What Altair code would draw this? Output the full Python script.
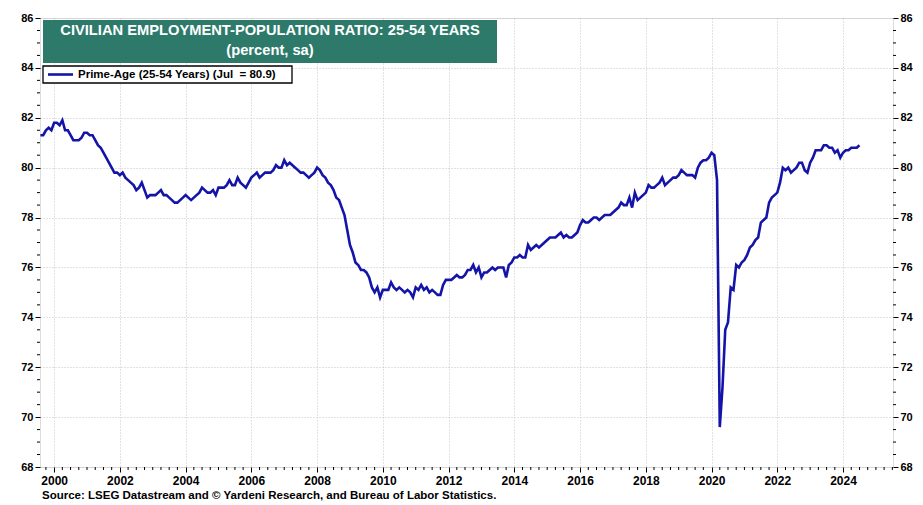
import altair as alt
import pandas as pd

# Monthly prime-age employment-population ratio (percent, sa)
start_1999 = 8  # first month shown in 1999 (Aug)
v1999 = [81.3, 81.3, 81.5, 81.6, 81.5]
v2000 = [81.8, 81.8, 81.7, 81.9, 81.5, 81.5, 81.3, 81.1, 81.1, 81.1, 81.2, 81.4]
v2001 = [81.4, 81.3, 81.3, 81.1, 80.9, 80.8, 80.6, 80.4, 80.2, 80.0, 79.8, 79.8]
v2002 = [79.7, 79.8, 79.6, 79.5, 79.4, 79.3, 79.1, 79.2, 79.4, 79.1, 78.8, 78.9]
v2003 = [78.9, 78.9, 79.0, 79.1, 78.9, 78.9, 78.8, 78.7, 78.6, 78.6, 78.7, 78.8]
v2004 = [78.9, 78.8, 78.7, 78.8, 78.9, 79.0, 79.2, 79.1, 79.0, 79.0, 79.1, 78.9]
v2005 = [79.2, 79.2, 79.2, 79.3, 79.5, 79.3, 79.3, 79.6, 79.4, 79.3, 79.2, 79.4]
v2006 = [79.6, 79.7, 79.8, 79.6, 79.7, 79.8, 79.8, 79.8, 79.9, 80.1, 80.0, 80.0]
v2007 = [80.3, 80.1, 80.2, 80.1, 80.0, 79.9, 79.8, 79.8, 79.7, 79.6, 79.7, 79.8]
v2008 = [80.0, 79.9, 79.7, 79.6, 79.4, 79.3, 79.1, 78.8, 78.7, 78.4, 78.1, 77.5]
v2009 = [76.9, 76.6, 76.2, 76.1, 75.9, 75.9, 75.8, 75.6, 75.2, 75.0, 75.2, 74.8]
v2010 = [75.1, 75.1, 75.1, 75.4, 75.2, 75.1, 75.2, 75.1, 75.0, 75.1, 75.0, 74.8]
v2011 = [75.2, 75.1, 75.3, 75.1, 75.2, 75.0, 75.1, 75.0, 74.9, 74.9, 75.3, 75.5]
v2012 = [75.5, 75.5, 75.6, 75.7, 75.6, 75.6, 75.7, 75.9, 75.9, 76.1, 75.8, 76.0]
v2013 = [75.6, 75.8, 75.8, 75.9, 76.0, 75.9, 76.0, 76.0, 76.0, 75.6, 76.1, 76.2]
v2014 = [76.4, 76.4, 76.5, 76.4, 76.4, 76.9, 76.7, 76.8, 76.9, 76.8, 76.9, 77.0]
v2015 = [77.1, 77.2, 77.2, 77.2, 77.3, 77.4, 77.2, 77.3, 77.2, 77.2, 77.3, 77.4]
v2016 = [77.7, 77.9, 77.8, 77.8, 77.9, 78.0, 78.0, 77.9, 78.0, 78.1, 78.1, 78.1]
v2017 = [78.2, 78.3, 78.4, 78.6, 78.5, 78.5, 78.8, 78.4, 79.0, 78.7, 78.8, 78.9]
v2018 = [79.0, 79.3, 79.2, 79.2, 79.3, 79.4, 79.6, 79.3, 79.4, 79.5, 79.6, 79.6]
v2019 = [79.7, 79.9, 79.8, 79.7, 79.7, 79.7, 79.6, 80.0, 80.2, 80.3, 80.3, 80.4]
v2020 = [80.6, 80.5, 79.5, 69.6, 71.2, 73.5, 73.8, 75.2, 75.1, 76.1, 76.0, 76.2]
v2021 = [76.3, 76.5, 76.8, 76.9, 77.1, 77.2, 77.8, 77.9, 78.0, 78.6, 78.8, 78.9]
v2022 = [79.0, 79.4, 80.0, 79.9, 80.0, 79.8, 79.9, 80.0, 80.2, 80.2, 79.9, 79.8]
v2023 = [80.2, 80.4, 80.7, 80.7, 80.7, 80.9, 80.9, 80.8, 80.8, 80.6, 80.7, 80.4]
v2024 = [80.6, 80.7, 80.7, 80.8, 80.8, 80.8, 80.9]

years_data = {
    1999: v1999, 2000: v2000, 2001: v2001, 2002: v2002, 2003: v2003, 2004: v2004,
    2005: v2005, 2006: v2006, 2007: v2007, 2008: v2008, 2009: v2009, 2010: v2010,
    2011: v2011, 2012: v2012, 2013: v2013, 2014: v2014, 2015: v2015, 2016: v2016,
    2017: v2017, 2018: v2018, 2019: v2019, 2020: v2020, 2021: v2021, 2022: v2022,
    2023: v2023, 2024: v2024,
}

year_ticks = list(range(2000, 2025, 2))
y_ticks = list(range(68, 87, 2))

TITLE = "CIVILIAN EMPLOYMENT-POPULATION RATIO: 25-54 YEARS"
SUBTITLE = "(percent, sa)"
LEGEND = "Prime-Age (25-54 Years) (Jul \u00a0= 80.9)"
SOURCE = "Source: LSEG Datastream and \u00a9 Yardeni Research, and Bureau of Labor Statistics."

rows = []
for yr, vals in years_data.items():
    first = start_1999 if yr == 1999 else 1
    for i, v in enumerate(vals):
        m = first + i
        rows.append({"t": yr + (m - 1) / 12.0, "v": v})
df = pd.DataFrame(rows)

W, H = 853, 449
XDOM = [1999.57, 2025.52]
YDOM = [68, 86]
BLUE = "#1414a8"
TEAL = "#2d7a6b"
NARROW = "Liberation Sans Narrow, Arial Narrow, Liberation Sans, Arial"

xscale = alt.Scale(domain=XDOM, nice=False, zero=False)
yscale = alt.Scale(domain=YDOM, nice=False, zero=False)

xaxis = alt.Axis(values=year_ticks, format="d", title=None, grid=True,
                 gridColor="#c4c4c4", gridDash=[1, 2], gridWidth=1,
                 tickSize=5, tickColor="black", labelPadding=3,
                 labelFont=NARROW, labelFontSize=12, labelFontWeight="bold",
                 labelColor="black", domain=False)
yaxis_left = alt.Axis(values=y_ticks, title=None, grid=True,
                      gridColor="#c4c4c4", gridDash=[1, 2], gridWidth=1,
                      tickSize=5, tickColor="black", labelPadding=2,
                      labelFontSize=11, labelFontWeight="bold",
                      labelColor="black", domain=False)
yaxis_right = alt.Axis(values=y_ticks, title=None, grid=False, orient="right",
                       tickSize=5, tickColor="black", labelPadding=2,
                       labelFontSize=11, labelFontWeight="bold",
                       labelColor="black", domain=False)

line = alt.Chart(df).mark_line(color=BLUE, strokeWidth=2.6).encode(
    x=alt.X("t:Q", scale=xscale, axis=xaxis),
    y=alt.Y("v:Q", scale=yscale, axis=yaxis_left),
)

# minor ticks
y_minor = [68 + 0.5 * k for k in range(37) if (68 + 0.5 * k) % 2 != 0]
x_minor = [1999.75 + 0.25 * k for k in range(104)]
x_minor = [q for q in x_minor if XDOM[0] <= q <= XDOM[1] and not (q.is_integer() and int(q) % 2 == 0)]
ymin_df = pd.DataFrame({"m": y_minor})
xmin_df = pd.DataFrame({"m": x_minor})

ymin_left = alt.Chart(ymin_df).mark_rule(color="black", strokeWidth=1).encode(
    y=alt.Y("m:Q", scale=yscale, axis=yaxis_left), x=alt.value(-3), x2=alt.value(0))
xmin_ticks = alt.Chart(xmin_df).mark_rule(color="black", strokeWidth=1).encode(
    x=alt.X("m:Q", scale=xscale, axis=xaxis), y=alt.value(H), y2=alt.value(H + 3))

one = pd.DataFrame({"a": [0]})
title_box = alt.Chart(one).mark_rect(fill=TEAL).encode(
    x=alt.value(3), x2=alt.value(457), y=alt.value(2), y2=alt.value(45))
title_txt = alt.Chart(one).mark_text(color="white", fontSize=14.7, fontWeight="bold",
                                     align="center", baseline="middle", text=TITLE).encode(
    x=alt.value(230), y=alt.value(13))
sub_txt = alt.Chart(one).mark_text(color="white", fontSize=14.7, fontWeight="bold",
                                   align="center", baseline="middle", text=SUBTITLE).encode(
    x=alt.value(230), y=alt.value(33))
legend_box = alt.Chart(one).mark_rect(fill="white", stroke="black", strokeWidth=1.3).encode(
    x=alt.value(3), x2=alt.value(252), y=alt.value(48), y2=alt.value(65))
legend_line = alt.Chart(one).mark_rule(color=BLUE, strokeWidth=2.6).encode(
    x=alt.value(8), x2=alt.value(33), y=alt.value(56.5))
legend_txt = alt.Chart(one).mark_text(color="black", fontSize=11.5, fontWeight="bold",
                                      align="left", baseline="middle", text=LEGEND).encode(
    x=alt.value(38), y=alt.value(56.5))
source_txt = alt.Chart(one).mark_text(color="black", fontSize=11.5, fontWeight="bold",
                                      font=NARROW, align="left", baseline="middle",
                                      text=SOURCE).encode(
    x=alt.value(2), y=alt.value(478))

left_layer = alt.layer(line, ymin_left, xmin_ticks, title_box, title_txt, sub_txt,
                       legend_box, legend_line, legend_txt, source_txt)

ymin_right = alt.Chart(ymin_df).mark_rule(color="black", strokeWidth=1).encode(
    y=alt.Y("m:Q", scale=yscale, axis=yaxis_right), x=alt.value(W), x2=alt.value(W + 3))

chart = alt.layer(left_layer, ymin_right).resolve_scale(y="independent").properties(
    width=W, height=H,
    autosize=alt.AutoSizeParams(type="none"),
    padding={"left": 32, "top": 10, "right": 20, "bottom": 36},
    background="white",
).configure_view(stroke="black", strokeWidth=2).configure(font="Liberation Sans")

chart.save("out.html", embed_options={"renderer": "svg", "actions": False})
